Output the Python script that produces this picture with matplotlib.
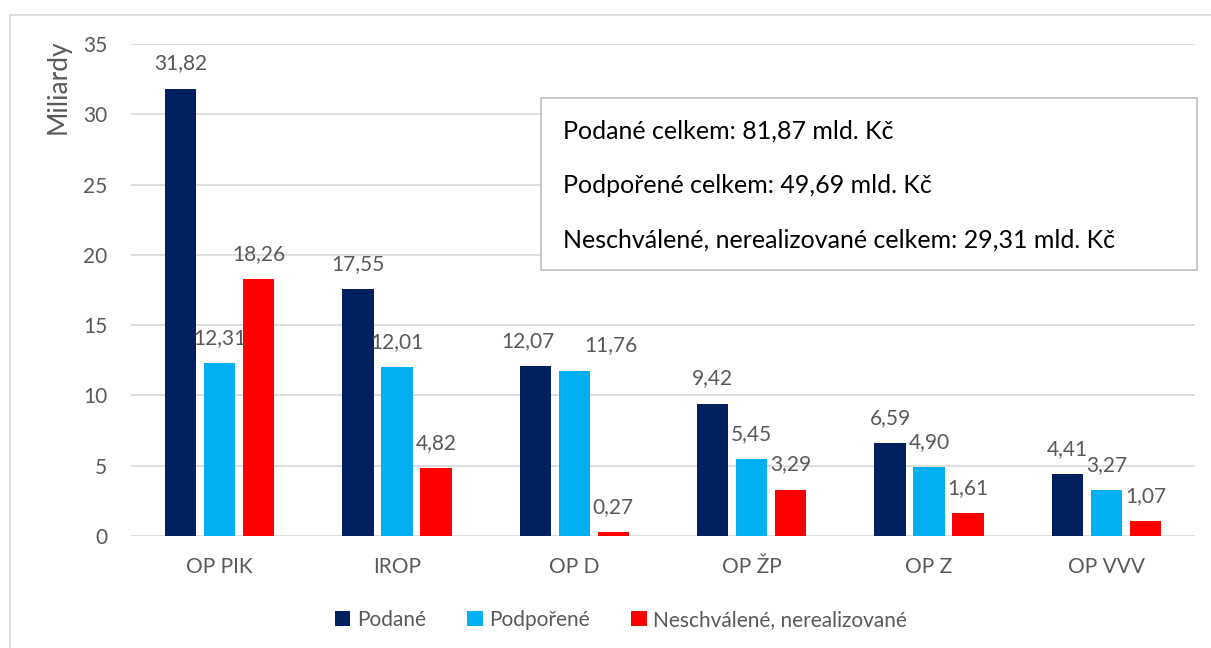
import numpy as np
import matplotlib.pyplot as plt
from matplotlib.patches import Rectangle

# Data (billions CZK)
categories = ["OP PIK", "IROP", "OP D", "OP ŽP", "OP Z", "OP VVV"]
podane = [31.82, 17.55, 12.07, 9.42, 6.59, 4.41]
podporene = [12.31, 12.01, 11.76, 5.45, 4.90, 3.27]
neschvalene = [18.26, 4.82, 0.27, 3.29, 1.61, 1.07]
series_names = ["Podané", "Podpořené", "Neschválené, nerealizované"]
totals_text = [
    "Podané celkem: 81,87 mld. Kč",
    "Podpořené celkem: 49,69 mld. Kč",
    "Neschválené, nerealizované celkem: 29,31 mld. Kč",
]

colors = ["#002060", "#00B0F0", "#FF0000"]
text_col = "#595959"
plt.rcParams['font.family'] = ['Lato', 'DejaVu Sans']

# nudges (points) for crowded data labels: (series, category) -> dx
label_nudge = {(0, 2): -5, (1, 2): 26}

W, H = 1211, 648
fig = plt.figure(figsize=(W / 100, H / 100), dpi=100)

# outer chart frame (runs off right/bottom edges)
fig.patches.append(Rectangle((9.5 / W, 0 - 0.01), 1.02, 1 - 15 / H + 0.01,
                             transform=fig.transFigure, fill=False,
                             edgecolor="#D9D9D9", lw=1.2))

ax = fig.add_axes([131 / W, 1 - 536 / H, (1195 - 131) / W, (536 - 44) / H])

x = np.arange(len(categories))
width = 0.175
offset = 0.22
for i, (vals, name) in enumerate(zip([podane, podporene, neschvalene], series_names)):
    pos = x + (i - 1) * offset
    ax.bar(pos, vals, width, color=colors[i], label=name, zorder=3)
    for j, (xb, v) in enumerate(zip(pos, vals)):
        dx = label_nudge.get((i, j), 0)
        ax.annotate(f"{v:.2f}".replace(".", ","), (xb, v), xytext=(dx, 11),
                    textcoords="offset points", ha="center", va="bottom",
                    fontsize=15, color=text_col, zorder=4)

ax.set_xlim(-0.5, len(categories) - 0.5)
ax.set_ylim(0, 35)
ax.set_yticks(np.arange(0, 36, 5))
ax.set_xticks(x)
ax.set_xticklabels(categories)
ax.yaxis.grid(True, color="#D9D9D9", lw=1.2, zorder=0)
ax.tick_params(axis="both", length=0, labelsize=15, colors=text_col)
ax.tick_params(axis="y", pad=17)
ax.tick_params(axis="x", pad=15)
for s in ax.spines.values():
    s.set_visible(False)
ax.set_ylabel("Miliardy", fontsize=19, color=text_col, loc="top")
ax.yaxis.set_label_coords(-0.057, 1.01)

# totals box
fig.patches.append(Rectangle((541 / W, 1 - 270 / H), (1197 - 541) / W, (270 - 98) / H,
                             transform=fig.transFigure, facecolor="white",
                             edgecolor="#BFBFBF", lw=1.2, zorder=5))
for k, t in enumerate(totals_text):
    fig.text(563 / W, 1 - (131 + 54.5 * k) / H, t, fontsize=18, color="black",
             va="center", ha="left", zorder=6)

fig.legend(loc="center", bbox_to_anchor=(621 / W, 1 - 620 / H), ncol=3,
           frameon=False, fontsize=15, handlelength=0.75, handleheight=0.75,
           columnspacing=2.0, handletextpad=0.3, labelcolor=text_col)

fig.savefig("out.png", dpi=100)
